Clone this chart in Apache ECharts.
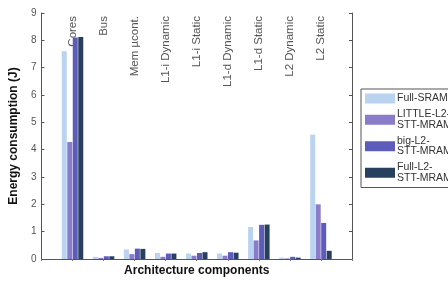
<!DOCTYPE html>
<html>
<head>
<meta charset="utf-8">
<script src="https://cdn.jsdelivr.net/npm/echarts@6/dist/echarts.min.js"></script>
<style>
  html, body { margin: 0; padding: 0; background: #fff; }
  #main { width: 448px; height: 282px; }
</style>
</head>
<body>
<div id="main"></div>
<script>
// 组件类别 (两端留空，对应 0 和 10 位置)
var categories = ['', 'Cores', 'Bus', 'Mem \u00b5cont.', 'L1-i Dynamic', 'L1-i Static',
  'L1-d Dynamic', 'L1-d Static', 'L2 Dynamic', 'L2 Static', ''];

var seriesNames = ['Full-SRAM', 'LITTLE-L2-STT-MRAM', 'big-L2-STT-MRAM', 'Full-L2-STT-MRAM'];
var legendLabels = ['Full-SRAM', 'LITTLE-L2-\nSTT-MRAM', 'big-L2-\nSTT-MRAM', 'Full-L2-\nSTT-MRAM'];
var colors = ['#b9d3f0', '#8a7cc8', '#5d5cba', '#27405f'];

var fullSram   = [null, 7.6,  0.08, 0.35, 0.22, 0.2,  0.2,  1.17, 0.05, 4.55, null];
var littleL2   = [null, 4.28, 0.04, 0.18, 0.08, 0.12, 0.12, 0.68, 0.02, 2.0,  null];
var bigL2      = [null, 8.1,  0.1,  0.38, 0.2,  0.22, 0.25, 1.25, 0.08, 1.32, null];
var fullL2     = [null, 8.12, 0.1,  0.37, 0.2,  0.25, 0.23, 1.26, 0.05, 0.3,  null];
var allData = [fullSram, littleL2, bigL2, fullL2];

var yTicks = [0, 1, 2, 3, 4, 5, 6, 7, 8, 9];

var myChart = echarts.init(document.getElementById('main'));

var series = [];
for (var i = 0; i < seriesNames.length; i++) {
  series.push({
    name: seriesNames[i],
    type: 'bar',
    xAxisIndex: 0,
    yAxisIndex: 0,
    barWidth: 5,
    barGap: '10%',
    itemStyle: { color: colors[i] },
    data: allData[i]
  });
}

var option = {
  animation: false,
  textStyle: { fontFamily: 'Liberation Sans, Arial, sans-serif' },
  grid: { left: 36, right: 96, top: 13, bottom: 21, containLabel: false },
  legend: {
    orient: 'vertical',
    left: 361,
    top: 89,
    padding: [4, 8, 4, 4],
    itemWidth: 30,
    itemHeight: 10,
    itemGap: 5,
    borderColor: '#555',
    borderWidth: 1,
    icon: 'rect',
    data: seriesNames,
    formatter: function (name) {
      return legendLabels[seriesNames.indexOf(name)];
    },
    textStyle: { fontSize: 10.5, color: '#333', lineHeight: 10.5, padding: [0, 0, 0, -3] }
  },
  xAxis: [
    {
      type: 'category',
      position: 'bottom',
      boundaryGap: false,
      data: categories,
      name: 'Architecture components',
      nameLocation: 'middle',
      nameGap: 6,
      nameTextStyle: { fontSize: 12, fontWeight: 'bold', color: '#111' },
      axisLine: { lineStyle: { color: '#555' } },
      axisTick: { show: false },
      axisLabel: { show: false },
      splitLine: { show: false }
    },
    {
      type: 'category',
      position: 'top',
      boundaryGap: false,
      data: categories,
      axisLine: { lineStyle: { color: '#555' } },
      axisTick: { show: true, inside: true, length: 2, interval: 0, lineStyle: { color: '#777' } },
      axisLabel: {
        show: true,
        inside: true,
        rotate: 90,
        interval: 0,
        margin: 3,
        fontSize: 11.5,
        color: '#555',
        align: 'right',
        verticalAlign: 'middle'
      },
      splitLine: { show: false }
    }
  ],
  yAxis: [
    {
      type: 'value',
      min: 0,
      max: 9,
      interval: 1,
      name: 'Energy consumption (J)',
      nameLocation: 'middle',
      nameGap: 15,
      nameTextStyle: { fontSize: 12, fontWeight: 'bold', color: '#111' },
      axisLine: { show: true, lineStyle: { color: '#555' } },
      axisTick: { show: true, inside: true, length: 3, lineStyle: { color: '#555' } },
      axisLabel: {
        fontSize: 10,
        color: '#555',
        margin: 5,
        formatter: function (v) { return yTicks.indexOf(v) >= 0 ? String(v) : ''; }
      },
      splitLine: { show: false }
    },
    {
      type: 'value',
      position: 'right',
      min: 0,
      max: 9,
      interval: 1,
      axisLine: { show: true, lineStyle: { color: '#555' } },
      axisTick: { show: true, inside: true, length: 3, lineStyle: { color: '#555' } },
      axisLabel: { show: false },
      splitLine: { show: false }
    }
  ],
  series: series
};
myChart.setOption(option);
</script>
</body>
</html>
